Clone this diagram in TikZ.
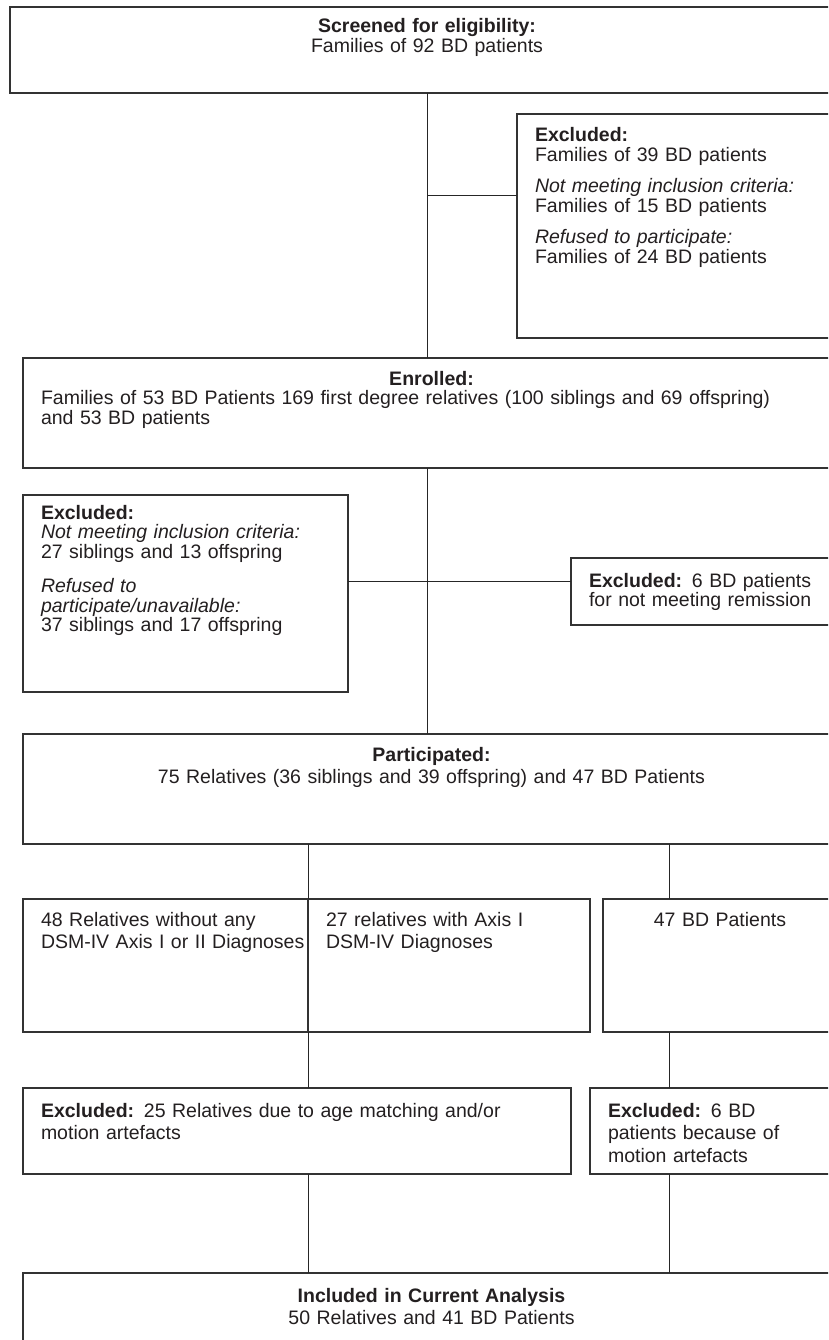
\documentclass[tikz,border=0pt]{standalone}
\usepackage{fontspec}
\setmainfont{Liberation Sans}
\usetikzlibrary{positioning}
\definecolor{cline}{HTML}{333333}
\definecolor{ctext}{HTML}{231F20}
\tikzset{
  blk/.style={rectangle, draw=cline, line width=1.3pt, anchor=north west,
    inner xsep=18pt, inner ysep=0pt, outer sep=0pt, align=left, text=ctext,
    font=\fontsize{19.5}{19.5}\selectfont},
  loose/.style={font=\fontsize{19.5}{22.5}\selectfont},
  lnk/.style={draw=black!85, line width=1pt},
}
\begin{document}
\begin{tikzpicture}[x=1pt, y=-1pt]
  \useasboundingbox (0,0) rectangle (828,1340);
  \clip (0,0) rectangle (828,1340);
  % screening / enrolment
  \node[blk, align=center, text width=798pt, text height=26pt, text depth=60pt] (scr) at (10,7)
    {\textbf{Screened for eligibility:}\\Families of 92 BD patients};
  \node[blk, text width=287pt, text height=28pt, text depth=196pt] (exc1) at (517,114)
    {\textbf{Excluded:}\\Families of 39 BD patients\\[12pt]\textit{Not meeting inclusion criteria:}\\Families of 15 BD patients\\[12pt]\textit{Refused to participate:}\\Families of 24 BD patients};
  \node[blk, text width=781pt, text height=27pt, text depth=83pt] (enr) at (23,358)
    {\makebox[\linewidth]{\textbf{Enrolled:}}\\Families of 53 BD Patients 169 first degree relatives (100 siblings and 69 offspring)\\and 53 BD patients};
  \node[blk, text width=289pt, text height=24pt, text depth=173pt] (exc2) at (23,495)
    {\textbf{Excluded:}\\\textit{Not meeting inclusion criteria:}\\27 siblings and 13 offspring\\[15pt]\textit{Refused to}\\\textit{participate/unavailable:}\\37 siblings and 17 offspring};
  \node[blk, text width=233pt, text height=29pt, text depth=38pt] (exc3) at (571,558)
    {\textbf{Excluded:} 6 BD patients\\for not meeting remission};
  % participants and analysis
  \node[blk, loose, align=center, text width=781pt, text height=27pt, text depth=83pt] (part) at (23,734)
    {\textbf{Participated:}\\75 Relatives (36 siblings and 39 offspring) and 47 BD Patients};
  \node[blk, loose, text width=249pt, text height=27pt, text depth=106pt] (rel0) at (23,899)
    {48 Relatives without any\\\mbox{DSM-IV Axis I or II Diagnoses}};
  \node[blk, loose, text width=246pt, text height=27pt, text depth=106pt, right=0pt of rel0] (rel1)
    {27 relatives with Axis I\\DSM-IV Diagnoses};
  \node[blk, loose, align=center, text width=198pt, text height=27pt, text depth=106pt, right=13pt of rel1] (bd)
    {47 BD Patients};
  \node[blk, loose, text width=512pt, text height=29pt, text depth=57pt] (exc25) at (23,1088)
    {\textbf{Excluded:} 25 Relatives due to age matching and/or\\motion artefacts};
  \node[blk, loose, text width=214pt, text height=29pt, text depth=57pt, right=19pt of exc25] (excR)
    {\textbf{Excluded:} 6 BD\\patients because of\\motion artefacts};
  \node[blk, loose, align=center, text width=781pt, text height=29pt, text depth=58pt] (fin) at (23,1273)
    {\textbf{Included in Current Analysis}\\50 Relatives and 41 BD Patients};

  \coordinate (j1) at ([yshift=-82pt]exc1.north west);
  \coordinate (j2) at ([yshift=-86pt]exc2.north east);
  \coordinate (c2) at ([xshift=66pt]bd.north west);
  \draw[lnk] (scr.south) -- (scr.south |- enr.north);
  \draw[lnk] (scr.south |- j1) -- (j1);
  \draw[lnk] (scr.south |- enr.south) -- (scr.south |- part.north);
  \draw[lnk] (j2) -- (j2 -| exc3.west);
  \draw[lnk] (rel0.north east |- part.south) -- (rel0.north east);
  \draw[lnk] (rel0.south east) -- (rel0.south east |- exc25.north);
  \draw[lnk] (rel0.south east |- exc25.south) -- (rel0.south east |- fin.north);
  \draw[lnk] (c2 |- part.south) -- (c2);
  \draw[lnk] (c2 |- bd.south) -- (c2 |- excR.north);
  \draw[lnk] (c2 |- excR.south) -- (c2 |- fin.north);
\end{tikzpicture}
\end{document}
